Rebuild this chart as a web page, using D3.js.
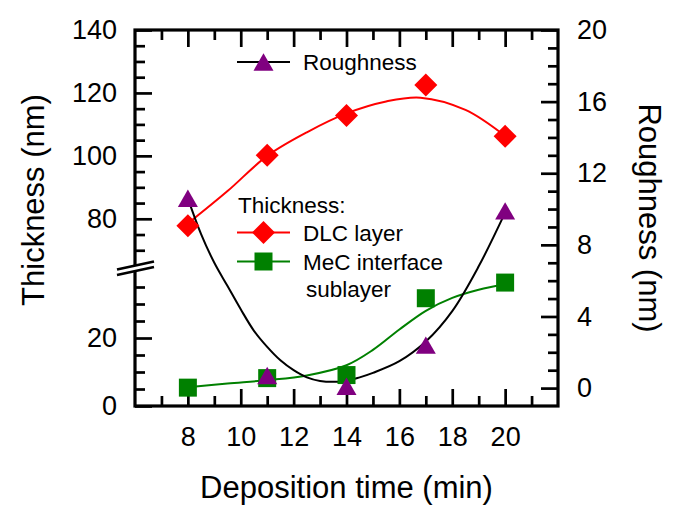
<!DOCTYPE html>
<html>
<head>
<meta charset="utf-8">
<script src="https://cdn.jsdelivr.net/npm/d3@7"></script>
<style>
    body { margin: 0; background: #fff; }
    text { font-family: "Liberation Sans", Arial, sans-serif; fill: #000; }
</style>
</head>
<body>
<svg id="chart"></svg>
<script>
// measured points
var times = [8, 11, 14, 17, 20];
var dlcThickness = [77.8, 100.2, 112.8, 122.5, 106.2];
var mecThickness = [5.4, 8.2, 9.1, 31.7, 36.3];
var roughness = [10.6, 0.7, 0.1, 2.4, 9.9];

// fitted curves (x, value)
var dlcFitX = [8, 9.5, 11, 12.5, 14, 15.5, 16.8, 18.5, 20];
var dlcFitY = [78.5, 88.8, 100, 107.5, 113.5, 117.3, 118.5, 114.6, 106.3];
var mecFitX = [8, 9.5, 11, 12.5, 14, 15, 16, 17, 18, 19, 20];
var mecFitY = [5.5, 6.6, 7.6, 9.0, 12, 16.5, 22.5, 28, 31.8, 34.2, 35.8];
var roughFitX = [8, 8.5, 9, 9.5, 10, 10.5, 11, 11.5, 12, 12.5, 13, 13.5, 14, 14.5, 15, 16, 17, 18, 19, 20];
var roughFitY = [10.6, 8.6, 7.0, 5.7, 4.4, 3.2, 2.3, 1.55, 1.0, 0.6, 0.4, 0.35, 0.4, 0.6, 0.85, 1.5, 2.6, 4.3, 6.8, 9.8];

// tick values
var xMajor = [8, 10, 12, 14, 16, 18, 20];
var xMinor = [7, 9, 11, 13, 15, 17, 19, 21];
var yHighMajor = [80, 100, 120, 140];
var yHighMinor = [70, 75, 85, 90, 95, 105, 110, 115, 125, 130, 135];
var yLowMajor = [0, 20];
var yLowMinor = [5, 10, 15, 25, 30, 35];
var rMajor = [0, 4, 8, 12, 16, 20];
var rMinor = [1, 2, 3, 5, 6, 7, 9, 10, 11, 13, 14, 15, 17, 18, 19];

var width = 681, height = 507;
var plot = { left: 135, right: 558, top: 30, bottom: 406 };

var svg = d3.select("#chart")
    .attr("width", width)
    .attr("height", height);

var x = d3.scaleLinear().domain([6, 22]).range([plot.left, plot.right]);
// broken thickness axis: two pieces
var yLow = d3.scaleLinear().domain([0, 40]).range([plot.bottom, 270]);
var yHigh = d3.scaleLinear().domain([65, 140]).range([266, plot.top]);
var yR = d3.scaleLinear().domain([-1, 20]).range([plot.bottom, plot.top]);

var majorLen = 17, minorLen = 10, tickFont = 27;

function styleAxis(g) {
    g.select(".domain").remove();
    g.selectAll(".tick line").attr("stroke", "#000").attr("stroke-width", 2.7);
    g.selectAll(".tick text")
        .style("font-family", '"Liberation Sans", Arial, sans-serif')
        .style("font-size", tickFont + "px")
        .attr("fill", "#000");
}

// bottom and top
svg.append("g")
    .attr("transform", "translate(0," + plot.bottom + ")")
    .call(d3.axisBottom(x).tickValues(xMinor).tickSize(-minorLen).tickFormat(""))
    .call(styleAxis);
svg.append("g")
    .attr("transform", "translate(0," + plot.bottom + ")")
    .call(d3.axisBottom(x).tickValues(xMajor).tickSize(-majorLen).tickPadding(21).tickFormat(d3.format("d")))
    .call(styleAxis);
svg.append("g")
    .attr("transform", "translate(0," + plot.top + ")")
    .call(d3.axisTop(x).tickValues(xMinor).tickSize(-minorLen).tickFormat(""))
    .call(styleAxis);
svg.append("g")
    .attr("transform", "translate(0," + plot.top + ")")
    .call(d3.axisTop(x).tickValues(xMajor).tickSize(-majorLen).tickFormat(""))
    .call(styleAxis);

// left, two pieces
[[yHigh, yHighMinor, yHighMajor], [yLow, yLowMinor, yLowMajor]].forEach(function (p) {
    svg.append("g")
        .attr("transform", "translate(" + plot.left + ",0)")
        .call(d3.axisLeft(p[0]).tickValues(p[1]).tickSize(-minorLen).tickFormat(""))
        .call(styleAxis);
    svg.append("g")
        .attr("transform", "translate(" + plot.left + ",0)")
        .call(d3.axisLeft(p[0]).tickValues(p[2]).tickSize(-majorLen).tickPadding(18).tickFormat(d3.format("d")))
        .call(styleAxis);
});

// right
svg.append("g")
    .attr("transform", "translate(" + plot.right + ",0)")
    .call(d3.axisRight(yR).tickValues(rMinor).tickSize(-minorLen).tickFormat(""))
    .call(styleAxis);
svg.append("g")
    .attr("transform", "translate(" + plot.right + ",0)")
    .call(d3.axisRight(yR).tickValues(rMajor).tickSize(-majorLen).tickPadding(19).tickFormat(d3.format("d")))
    .call(styleAxis);

// frame
svg.append("rect")
    .attr("x", plot.left)
    .attr("y", plot.top)
    .attr("width", plot.right - plot.left)
    .attr("height", plot.bottom - plot.top)
    .attr("fill", "none")
    .attr("stroke", "#000")
    .attr("stroke-width", 3.2);

// axis break marks
var by = (yLow(40) + yHigh(65)) / 2;
var bx = plot.left;
svg.append("polygon")
    .attr("points", [[bx - 18, by + 6.5], [bx + 19, by - 1.5], [bx + 19, by - 7], [bx - 18, by + 1]].join(" "))
    .attr("fill", "#fff");
[-2.5, 3].forEach(function (o) {
    svg.append("line")
        .attr("x1", bx - 18).attr("y1", by + 4 + o)
        .attr("x2", bx + 19).attr("y2", by - 4 + o)
        .attr("stroke", "#000")
        .attr("stroke-width", 2.7);
});

// symbols
var triangle = {
    draw: function (ctx, size) {
        var w = Math.sqrt(size), h = w * 0.87;
        ctx.moveTo(0, -h / 2);
        ctx.lineTo(w / 2, h / 2);
        ctx.lineTo(-w / 2, h / 2);
        ctx.closePath();
    }
};
var diamond = {
    draw: function (ctx, size) {
        var r = Math.sqrt(size) / 2;
        ctx.moveTo(0, -r);
        ctx.lineTo(r, 0);
        ctx.lineTo(0, r);
        ctx.lineTo(-r, 0);
        ctx.closePath();
    }
};
var diamondSym = d3.symbol().type(diamond).size(23 * 23);
var squareSym = d3.symbol().type(d3.symbolSquare).size(18 * 18);
var triSym = d3.symbol().type(triangle).size(20 * 20);

var red = "#ff0000", green = "#008000", purple = "#800080";

// fitted lines
var lineHigh = d3.line().curve(d3.curveCatmullRom).x(function (d) { return x(d[0]); }).y(function (d) { return yHigh(d[1]); });
var lineLow = d3.line().curve(d3.curveCatmullRom).x(function (d) { return x(d[0]); }).y(function (d) { return yLow(d[1]); });
var lineR = d3.line().curve(d3.curveCatmullRom).x(function (d) { return x(d[0]); }).y(function (d) { return yR(d[1]); });

svg.append("path")
    .datum(d3.zip(dlcFitX, dlcFitY))
    .attr("d", lineHigh)
    .attr("fill", "none").attr("stroke", red).attr("stroke-width", 2);
svg.append("path")
    .datum(d3.zip(mecFitX, mecFitY))
    .attr("d", lineLow)
    .attr("fill", "none").attr("stroke", green).attr("stroke-width", 2);
svg.append("path")
    .datum(d3.zip(roughFitX, roughFitY))
    .attr("d", lineR)
    .attr("fill", "none").attr("stroke", "#000").attr("stroke-width", 2);

// markers
svg.selectAll(".dlc")
    .data(d3.zip(times, dlcThickness))
    .enter().append("path")
    .attr("class", "dlc")
    .attr("transform", function (d) { return "translate(" + x(d[0]) + "," + yHigh(d[1]) + ")"; })
    .attr("d", diamondSym)
    .attr("fill", red);
svg.selectAll(".mec")
    .data(d3.zip(times, mecThickness))
    .enter().append("path")
    .attr("class", "mec")
    .attr("transform", function (d) { return "translate(" + x(d[0]) + "," + yLow(d[1]) + ")"; })
    .attr("d", squareSym)
    .attr("fill", green);
svg.selectAll(".rough")
    .data(d3.zip(times, roughness))
    .enter().append("path")
    .attr("class", "rough")
    .attr("transform", function (d) { return "translate(" + x(d[0]) + "," + yR(d[1]) + ")"; })
    .attr("d", triSym)
    .attr("fill", purple);

// legends
function legendItem(y, color, sym, label) {
    svg.append("line")
        .attr("x1", 237).attr("x2", 290)
        .attr("y1", y).attr("y2", y)
        .attr("stroke", color).attr("stroke-width", 2);
    svg.append("path")
        .attr("transform", "translate(263.5," + y + ")")
        .attr("d", sym)
        .attr("fill", color === "#000" ? purple : color);
    svg.append("text")
        .attr("x", 303).attr("y", y + 8)
        .style("font-size", "22.5px")
        .text(label);
}
legendItem(62, "#000", triSym, "Roughness");
svg.append("text")
    .attr("x", 238).attr("y", 212.5)
    .style("font-size", "22.5px")
    .text("Thickness:");
legendItem(232.5, red, diamondSym, "DLC layer");
legendItem(261.5, green, squareSym, "MeC interface");
svg.append("text")
    .attr("x", 306).attr("y", 296.5)
    .style("font-size", "22.5px")
    .text("sublayer");

// axis titles
svg.append("text")
    .attr("x", (plot.left + plot.right) / 2)
    .attr("y", 498)
    .attr("text-anchor", "middle")
    .style("font-size", "31px")
    .text("Deposition time (min)");
svg.append("text")
    .attr("transform", "translate(44,200) rotate(-90)")
    .attr("text-anchor", "middle")
    .style("font-size", "31px")
    .text("Thickness (nm)");
svg.append("text")
    .attr("transform", "translate(639,218) rotate(90)")
    .attr("text-anchor", "middle")
    .style("font-size", "31px")
    .text("Roughness (nm)");
</script>
</body>
</html>
